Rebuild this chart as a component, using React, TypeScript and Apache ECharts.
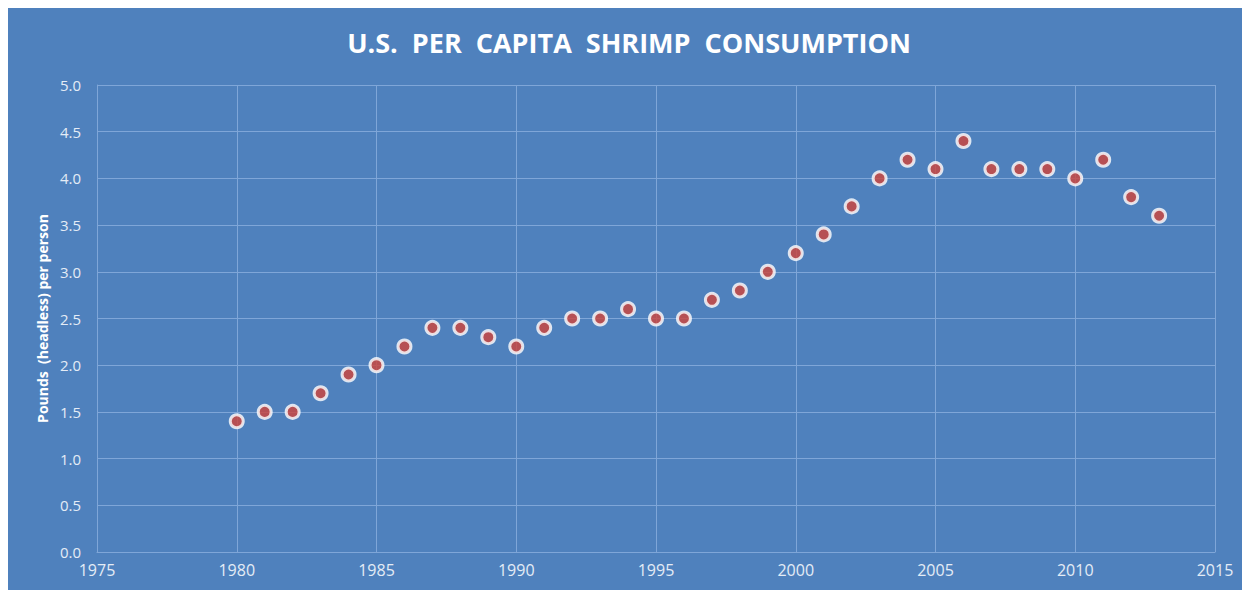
import React, { useEffect, useRef } from "react";
import * as echarts from "echarts";

const years = [1980, 1981, 1982, 1983, 1984, 1985, 1986, 1987, 1988, 1989, 1990, 1991, 1992, 1993, 1994, 1995, 1996, 1997, 1998, 1999, 2000, 2001, 2002, 2003, 2004, 2005, 2006, 2007, 2008, 2009, 2010, 2011, 2012, 2013];
const pounds = [1.4, 1.5, 1.5, 1.7, 1.9, 2.0, 2.2, 2.4, 2.4, 2.3, 2.2, 2.4, 2.5, 2.5, 2.6, 2.5, 2.5, 2.7, 2.8, 3.0, 3.2, 3.4, 3.7, 4.0, 4.2, 4.1, 4.4, 4.1, 4.1, 4.1, 4.0, 4.2, 3.8, 3.6];
const titleText = "U.S.  PER  CAPITA  SHRIMP  CONSUMPTION";
const yAxisName = "Pounds  (headless) per person";

export default function App() {
  const ref = useRef<HTMLDivElement>(null);
  useEffect(() => {
    if (!ref.current) return;
    const chart = echarts.init(ref.current, null, { renderer: "svg" });
    const labelColor = "#e4ecf6";
    const gridColor = "#7fa6d8";
    chart.setOption({
      animation: false,
      backgroundColor: "#4f81bd",
      title: {
        text: titleText,
        left: "center",
        top: 16,
        textStyle: { color: "#ffffff", fontFamily: "Open Sans", fontWeight: "bold", fontSize: 27 },
      },
      grid: { left: 89, top: 77, right: 35, bottom: 38 },
      xAxis: {
        type: "value",
        min: 1975,
        max: 2015,
        interval: 5,
        axisLine: { show: true, lineStyle: { color: gridColor } },
        axisTick: { show: false },
        splitLine: { show: true, lineStyle: { color: gridColor, width: 1 } },
        axisLabel: {
          color: labelColor,
          fontFamily: "Open Sans",
          fontSize: 16,
          margin: 10,
          formatter: (v: number) => String(v),
        },
      },
      yAxis: {
        type: "value",
        min: 0,
        max: 5,
        interval: 0.5,
        name: yAxisName,
        nameLocation: "middle",
        nameGap: 45,
        nameTextStyle: { color: "#ffffff", fontFamily: "Open Sans", fontWeight: "bold", fontSize: 14 },
        axisLine: { show: true, lineStyle: { color: gridColor } },
        axisTick: { show: false },
        splitLine: { show: true, lineStyle: { color: gridColor, width: 1 } },
        axisLabel: {
          color: labelColor,
          fontFamily: "Open Sans",
          fontSize: 15,
          margin: 16,
          formatter: (v: number) => v.toFixed(1),
        },
      },
      series: [
        {
          type: "scatter",
          data: years.map((y, i) => [y, pounds[i]]),
          symbol: "circle",
          symbolSize: 13,
          itemStyle: { color: "#d0443a", borderColor: "#ffffff", borderWidth: 3 },
        },
      ],
    });
    return () => chart.dispose();
  }, []);
  return <div ref={ref} style={{ width: 1242, height: 582 }} />;
}
